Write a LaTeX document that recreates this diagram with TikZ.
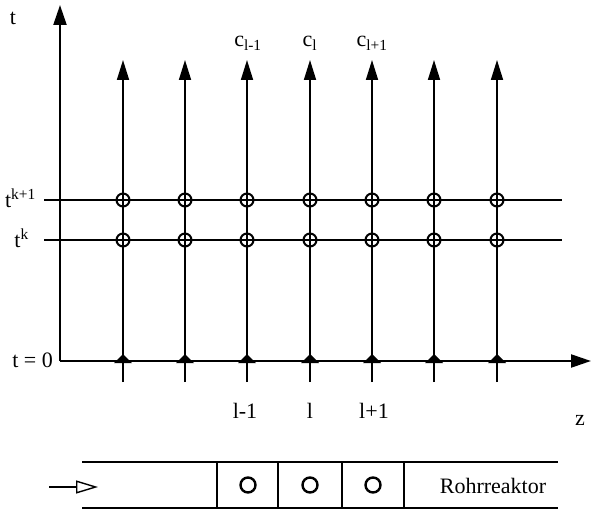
\documentclass[tikz,border=0pt]{standalone}
\usepackage{fontspec}
\setmainfont{Liberation Serif}
\usetikzlibrary{arrows.meta}
\begin{document}
\begin{tikzpicture}[x=1pt,y=-1pt,
  lbl/.style={font=\fontsize{22}{26}\selectfont, inner sep=0pt},
  axisline/.style={line width=2.2pt, -{Triangle[length=20pt,width=13pt]}},
  vline/.style={line width=1.7pt, -{Triangle[length=20pt,width=12pt]}},
  hline/.style={line width=1.5pt},
  gridpt/.style={circle, draw, line width=2pt, minimum size=13pt, inner sep=0pt},
  tube/.style={line width=1.5pt},
  cellpt/.style={circle, draw, line width=2.4pt, minimum size=15pt, inner sep=0pt},
  feed/.style={line width=1.4pt, -{Triangle[open,length=22pt,width=13pt]}}]
\useasboundingbox (0,0) rectangle (592,511);
% horizontal time levels
\coordinate (k1L) at (44,200); \coordinate (k1R) at (562,200);
\coordinate (k0L) at (44,240); \coordinate (k0R) at (562,240);
\draw[hline] (k1L) -- (k1R);
\draw[hline] (k0L) -- (k0R);
% vertical lines
\foreach \x [count=\i] in {123,185,247,310,372,434,497} {
  \coordinate (b\i) at (\x,382);
  \coordinate (top\i) at (\x,60);
  \draw[vline] (b\i) -- (top\i);
  \node[gridpt] (pa\i) at (\x,200) {};
  \node[gridpt] (pb\i) at (\x,240) {};
  \fill (\x-9,363) -- (\x+9,363) -- (\x,354) -- cycle;
}
% axes
\coordinate (O) at (60,361);
\coordinate (T) at (60,5);
\coordinate (Z) at (591,361);
\draw[axisline] (O) -- (T);
\draw[axisline] (O) -- (Z);
% labels
\node[lbl, anchor=base] (tl) at (13,25) {t};
\node[lbl, anchor=base east] (tk1) at (36,207) {t\textsuperscript{k+1}};
\node[lbl, anchor=base east] (tk) at (29,247) {t\textsuperscript{k}};
\node[lbl, anchor=base east] (t0) at (53,367) {t = 0};
\node[lbl, anchor=base] (cm) at (248,47) {c\textsubscript{l-1}};
\node[lbl, anchor=base] (c0) at (310,47) {c\textsubscript{l}};
\node[lbl, anchor=base] (cp) at (372,47) {c\textsubscript{l+1}};
\node[lbl, anchor=base] (lm) at (245,418) {l-1};
\node[lbl, anchor=base] (l0) at (310,418) {l};
\node[lbl, anchor=base] (lp) at (374,418) {l+1};
\node[lbl, anchor=base] (zl) at (580,425) {z};
% reactor
\coordinate (rTL) at (82,462); \coordinate (rTR) at (558,462);
\coordinate (rBL) at (82,508); \coordinate (rBR) at (558,508);
\draw[tube] (rTL) -- (rTR);
\draw[tube] (rBL) -- (rBR);
\foreach \x [count=\j] in {217,278,342,404} {
  \coordinate (dT\j) at (\x,462);
  \coordinate (dB\j) at (\x,508);
  \draw[tube] (dT\j) -- (dB\j);
}
\node[cellpt] (cell1) at (248,485) {};
\node[cellpt] (cell2) at (310,485) {};
\node[cellpt] (cell3) at (373,485) {};
\coordinate (fA) at (49,487);
\coordinate (fB) at (98,487);
\draw[feed] (fA) -- (fB);
\node[lbl, anchor=base] (rr) at (493,493) {Rohrreaktor};
\end{tikzpicture}
\end{document}
